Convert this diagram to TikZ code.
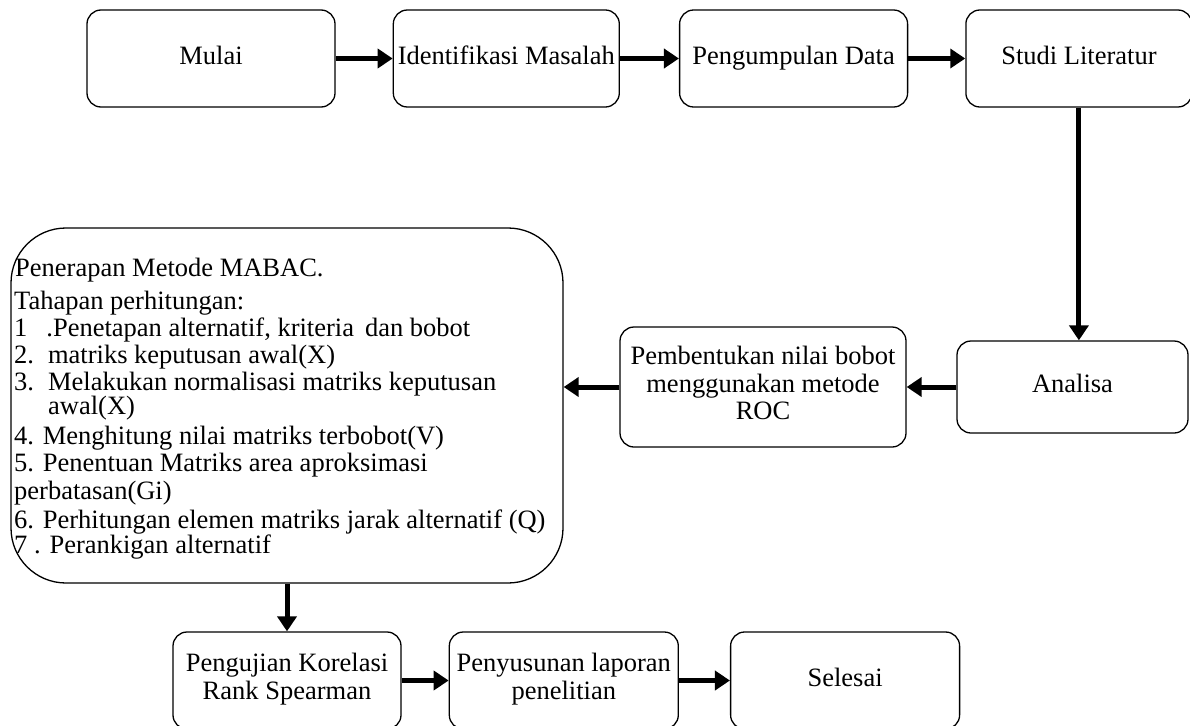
\documentclass[tikz,border=0pt]{standalone}
\usepackage{fontspec}
\setmainfont{Liberation Serif}
\usetikzlibrary{positioning,arrows.meta,calc}

\begin{document}
\begin{tikzpicture}[x=1pt,y=-1pt,
  procbox/.style={draw=black,line width=1.3pt,rounded corners=14pt,fill=white,
    inner sep=0pt,align=center,font=\fontsize{26.5}{27.5}\selectfont,
    execute at begin node=\strut},
  mabacline/.style={anchor=west,inner sep=0pt,text height=16pt,text depth=4pt,
    font=\fontsize{26.5}{27.5}\selectfont},
  flowarrow/.style={line width=5pt,-{Triangle[length=15pt,width=19pt]}}]
  \useasboundingbox (0,0) rectangle (1190,725);
  \clip (0,0) rectangle (1190,725);

  % top row
  \node[procbox,minimum width=248pt,minimum height=97pt] (mulai) at (211,58.5) {Mulai};
  \node[procbox,minimum width=226pt,minimum height=97pt,right=57pt of mulai]
        (identifikasi) {Identifikasi Masalah};
  \node[procbox,minimum width=228pt,minimum height=97pt,right=59pt of identifikasi]
        (pengumpulan) {Pengumpulan Data};
  \node[procbox,minimum width=226pt,minimum height=97pt,right=57pt of pengumpulan]
        (studi) {Studi Literatur};

  % middle row
  \node[procbox,minimum width=231pt,minimum height=92pt] (analisa) at (1072.5,387) {Analisa};
  \node[procbox,minimum width=286pt,minimum height=120pt] (pembentukan) at (763,387)
        {Pembentukan nilai bobot\\menggunakan metode\\ROC};
  \node[draw=black,line width=1.3pt,rounded corners=55pt,minimum width=552pt,
        minimum height=355pt,inner sep=0pt] (mabac) at (287,405.5) {};
  \foreach \y/\x/\lbl in {
    270/15/{Penerapan Metode MABAC.},
    303/14/{Tahapan perhitungan:},
    330/14/{1\hspace{19pt}.Penetapan alternatif, kriteria\, dan bobot},
    357/14/{2.\hspace{14pt}matriks keputusan awal(X)},
    384/14/{3.\hspace{14pt}Melakukan normalisasi matriks keputusan},
    408/48/{awal(X)},
    438/14/{4. Menghitung nilai matriks terbobot(V)},
    465/14/{5. Penentuan Matriks area aproksimasi},
    493/14/{perbatasan(Gi)},
    522/14/{6. Perhitungan elemen matriks jarak alternatif (Q)},
    547/14/{7 . Perankigan alternatif}} {
    \node[mabacline] (mline\y) at (\x,\y) {\lbl};
  }

  % bottom row
  \node[procbox,minimum width=228pt,minimum height=97pt] (pengujian) at (287,680.5)
        {Pengujian Korelasi\\Rank Spearman};
  \node[procbox,minimum width=229pt,minimum height=97pt,right=47pt of pengujian]
        (penyusunan) {Penyusunan laporan\\penelitian};
  \node[procbox,minimum width=229pt,minimum height=97pt,right=51pt of penyusunan]
        (selesai) {Selesai};

  % connectors
  \draw[flowarrow] (mulai) -- (identifikasi);
  \draw[flowarrow] (identifikasi) -- (pengumpulan);
  \draw[flowarrow] (pengumpulan) -- (studi);
  \draw[flowarrow] (studi.south) -- (studi.south |- analisa.north);
  \draw[flowarrow] (analisa) -- (pembentukan);
  \draw[flowarrow] (pembentukan.west) -- (pembentukan.west -| mabac.east);
  \draw[flowarrow] (mabac.south -| pengujian.north) -- (pengujian.north);
  \draw[flowarrow] (pengujian) -- (penyusunan);
  \draw[flowarrow] (penyusunan) -- (selesai);
\end{tikzpicture}
\end{document}
